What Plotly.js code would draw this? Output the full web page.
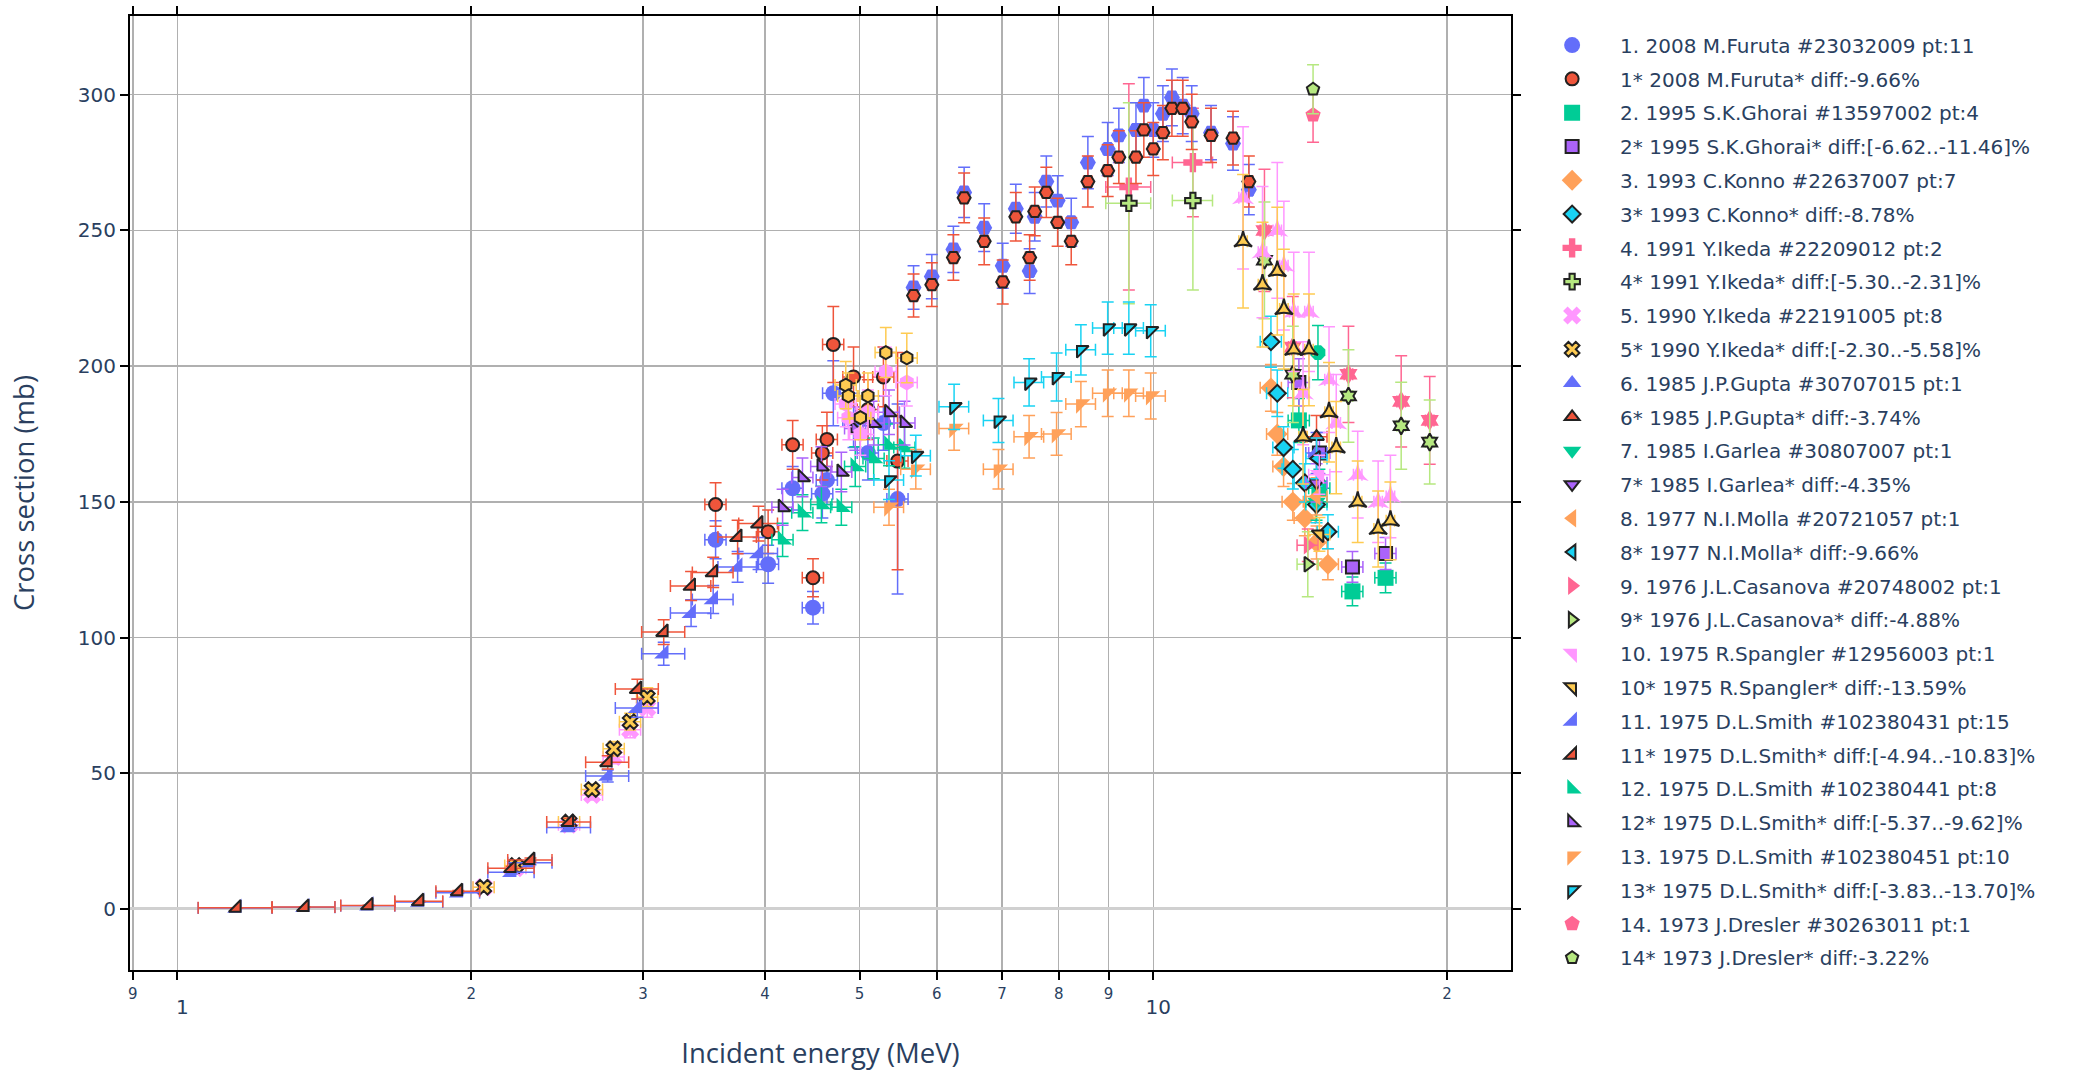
<!DOCTYPE html>
<html>
<head>
<meta charset="utf-8">
<script src="https://cdn.plot.ly/plotly-3.0.1.min.js"></script>
<style>html,body{margin:0;padding:0;background:#fff;}</style>
</head>
<body>
<div id="chart" style="width:2096px;height:1071px;"></div>
<script>
// ---- data (energies in MeV, cross sections in mb) ----
const E_furuta = [3.56, 4.03, 4.27, 4.48, 4.58, 4.63, 4.70, 4.93, 5.10, 5.29, 5.47];
const S_furuta = [136, 127, 155, 111, 153, 158, 190, 180, 168, 179, 151];
const S_furuta_n = [149, 139, 171, 122, 168, 173, 208, 196, 184, 196, 165];
const dS_furuta = [7, 7, 8, 6, 9, 9, 12, 10, 10, 10, 35];
const dS_furuta_n = [8, 8, 9, 7, 10, 10, 14, 11, 11, 11, 40];

const E_ghorai = [14.1, 14.8, 16.0, 17.3];
const S_ghorai = [180, 155, 117, 122];
const S_ghorai_n = [194, 168, 126, 131];

const E_konno = [13.2, 13.4, 13.6, 13.9, 14.3, 14.7, 15.1];
const S_konno = [192, 175, 163, 150, 144, 135, 127];
const S_konno_n = [209, 190, 170, 162, 157, 149, 139];

const E_ikeda91 = [9.44, 10.98];
const S_ikeda91 = [266, 275];
const S_ikeda91_n = [260, 261];

const E_ikeda90 = [2.06, 2.22, 2.52, 2.66, 2.80, 2.91, 3.03];
const S_ikeda90 = [8, 15, 31, 42, 56, 66, 74];
const S_ikeda90_n = [8, 16, 32, 44, 59, 69, 78];

const E_gupta = [14.7];   const S_gupta = [168];   const S_gupta_n = [174];
const E_garlea = [14.7];  const S_garlea = [150];  const S_garlea_n = [157];
const E_molla = [14.7];   const S_molla = [152];   const S_molla_n = [166];
const E_casanova = [14.4]; const S_casanova = [134]; const S_casanova_n = [127];
const E_spangler = [14.8]; const S_spangler = [160]; const S_spangler_n = [138];

const E_smith1 = [1.15, 1.35, 1.57, 1.77, 1.94, 2.20, 2.30, 2.52, 2.76, 2.96, 3.15, 3.36, 3.54, 3.75, 3.94];
const S_smith1 = [0.35, 0.6, 1.2, 2.6, 6, 13.5, 17, 30, 49, 74, 94, 109, 114, 126, 131];
const S_smith1_n = [0.4, 0.7, 1.3, 2.8, 6.5, 15, 18, 32, 54, 81, 102, 119, 124, 137, 142];
const dE_smith1 = [0.1, 0.1, 0.1, 0.1, 0.1, 0.12, 0.12, 0.13, 0.14, 0.15, 0.16, 0.16, 0.17, 0.17, 0.18];

const E_smith2 = [4.17, 4.37, 4.57, 4.79, 4.95, 5.17, 5.36, 5.56];
const S_smith2 = [136, 146, 149, 148, 163, 166, 171, 170];
const S_smith2_n = [148, 159, 163, 161, 177, 179, 183, 179];

const E_smith3 = [5.36, 5.71, 6.25, 6.94, 7.46, 7.96, 8.43, 8.98, 9.44, 9.94];
const S_smith3 = [148, 162, 177, 162, 174, 175, 186, 190, 190, 189];
const S_smith3_n = [158, 167, 185, 180, 194, 196, 206, 214, 214, 213];

const E_dresler = [14.58]; const S_dresler = [292.5]; const S_dresler_n = [302];

const E_hex = [4.84, 4.87, 5.01, 5.10, 5.32, 5.59];
const S_hex = [186, 181, 175, 183, 198, 194];
const S_hex_n = [193, 189, 181, 189, 205, 203];

const E_peak = [5.68, 5.93, 6.24, 6.40, 6.71, 7.01, 7.23, 7.47, 7.56, 7.77, 7.98, 8.24, 8.57, 8.98, 9.22, 9.60, 9.78, 10.0, 10.23, 10.45, 10.72, 10.95, 11.46, 12.07, 12.53];
const S_peak = [229, 233, 243, 264, 251, 237, 258, 235, 255, 268, 261, 253, 275, 280, 285, 287, 296, 287, 293, 299, 296, 293, 286, 282, 265];
const S_peak_n = [226, 230, 240, 262, 246, 231, 255, 240, 257, 264, 253, 246, 268, 272, 277, 277, 287, 280, 286, 295, 295, 290, 285, 284, 268];

const E_oct = [14.75]; const S_oct = [205];

const E_hexa = [13.0, 13.9, 15.85, 17.95, 19.2];
const S_hexa = [250, 207, 197, 187, 180];
const S_hexa_n = [239, 197, 189, 178, 172];

const E_stri = [12.36, 12.94, 13.4, 13.61, 13.93, 14.24, 14.44, 15.14, 15.4, 16.2, 17.0, 17.5];
const S_stri = [262, 242, 250, 237, 220, 190, 220, 195, 179, 160, 150, 152];
const S_stri_n = [246, 230, 235, 221, 206, 174, 206, 183, 170, 150, 140, 143];

// ---- legend labels ----
const labels = [
  '1. 2008 M.Furuta #23032009 pt:11', '1* 2008 M.Furuta* diff:-9.66%',
  '2. 1995 S.K.Ghorai #13597002 pt:4', '2* 1995 S.K.Ghorai* diff:[-6.62..-11.46]%',
  '3. 1993 C.Konno #22637007 pt:7', '3* 1993 C.Konno* diff:-8.78%',
  '4. 1991 Y.Ikeda #22209012 pt:2', '4* 1991 Y.Ikeda* diff:[-5.30..-2.31]%',
  '5. 1990 Y.Ikeda #22191005 pt:8', '5* 1990 Y.Ikeda* diff:[-2.30..-5.58]%',
  '6. 1985 J.P.Gupta #30707015 pt:1', '6* 1985 J.P.Gupta* diff:-3.74%',
  '7. 1985 I.Garlea #30807007 pt:1', '7* 1985 I.Garlea* diff:-4.35%',
  '8. 1977 N.I.Molla #20721057 pt:1', '8* 1977 N.I.Molla* diff:-9.66%',
  '9. 1976 J.L.Casanova #20748002 pt:1', '9* 1976 J.L.Casanova* diff:-4.88%',
  '10. 1975 R.Spangler #12956003 pt:1', '10* 1975 R.Spangler* diff:-13.59%',
  '11. 1975 D.L.Smith #102380431 pt:15', '11* 1975 D.L.Smith* diff:[-4.94..-10.83]%',
  '12. 1975 D.L.Smith #102380441 pt:8', '12* 1975 D.L.Smith* diff:[-5.37..-9.62]%',
  '13. 1975 D.L.Smith #102380451 pt:10', '13* 1975 D.L.Smith* diff:[-3.83..-13.70]%',
  '14. 1973 J.Dresler #30263011 pt:1', '14* 1973 J.Dresler* diff:-3.22%'
];

const C = ['#636efa','#EF553B','#00cc96','#ab63fa','#FFA15A','#19d3f3','#FF6692','#B6E880','#FF97FF','#FECB52'];

function pct(arr, p){ return arr.map(v => v*p); }

let gi = 0;
function mk(name, x, y, symbol, ci, starred, opts){
  opts = opts || {};
  const col = C[ci % 10];
  gi++;
  return {
    type:'scatter', mode:'markers', name:name, x:x, y:y,
    legendgroup:'g' + gi,
    showlegend: opts.showlegend !== false,
    marker:{symbol:symbol, color:col, size: starred ? 13 : 16,
            line: starred ? {color:'#222', width:2} : {width:0}},
    error_x:{type:'data', array: opts.ex || pct(x, 0.025), color:col, thickness:1.5, width:6, visible:true},
    error_y:{type:'data', array: opts.ey || pct(y, 0.045), color:col, thickness:1.5, width:6, visible:true}
  };
}

const traces = [
  mk(labels[0], E_furuta, S_furuta, 'circle', 0, false, {ey:dS_furuta}),
  mk(labels[1], E_furuta, S_furuta_n, 'circle', 1, true, {ey:dS_furuta_n}),
  mk(labels[2], E_ghorai, S_ghorai, 'square', 2, false),
  mk(labels[3], E_ghorai, S_ghorai_n, 'square', 3, true),
  mk(labels[4], E_konno, S_konno, 'diamond', 4, false),
  mk(labels[5], E_konno, S_konno_n, 'diamond', 5, true),
  mk(labels[6], E_ikeda91, S_ikeda91, 'cross', 6, false, {ex:[0.5,0.52], ey:[38,20]}),
  mk(labels[7], E_ikeda91, S_ikeda91_n, 'cross', 7, true, {ex:[0.5,0.52], ey:[37,33]}),
  mk(labels[8], E_ikeda90, S_ikeda90, 'x', 8, false),
  mk(labels[9], E_ikeda90, S_ikeda90_n, 'x', 9, true),
  mk(labels[10], E_gupta, S_gupta, 'triangle-up', 10, false),
  mk(labels[11], E_gupta, S_gupta_n, 'triangle-up', 11, true),
  mk(labels[12], E_garlea, S_garlea, 'triangle-down', 12, false),
  mk(labels[13], E_garlea, S_garlea_n, 'triangle-down', 13, true),
  mk(labels[14], E_molla, S_molla, 'triangle-left', 14, false),
  mk(labels[15], E_molla, S_molla_n, 'triangle-left', 15, true),
  mk(labels[16], E_casanova, S_casanova, 'triangle-right', 16, false),
  mk(labels[17], E_casanova, S_casanova_n, 'triangle-right', 17, true, {ey:[12]}),
  mk(labels[18], E_spangler, S_spangler, 'triangle-ne', 18, false),
  mk(labels[19], E_spangler, S_spangler_n, 'triangle-ne', 19, true),
  mk(labels[20], E_smith1, S_smith1, 'triangle-se', 20, false, {ex:dE_smith1}),
  mk(labels[21], E_smith1, S_smith1_n, 'triangle-se', 21, true, {ex:dE_smith1}),
  mk(labels[22], E_smith2, S_smith2, 'triangle-sw', 22, false),
  mk(labels[23], E_smith2, S_smith2_n, 'triangle-sw', 23, true),
  mk(labels[24], E_smith3, S_smith3, 'triangle-nw', 24, false, {ex:pct(E_smith3,0.035)}),
  mk(labels[25], E_smith3, S_smith3_n, 'triangle-nw', 25, true, {ex:pct(E_smith3,0.035)}),
  mk(labels[26], E_dresler, S_dresler, 'pentagon', 26, false, {ex:[0.05], ey:[10]}),
  mk(labels[27], E_dresler, S_dresler_n, 'pentagon', 27, true, {ex:[0.05], ey:[9]}),
  mk('15', E_hex, S_hex, 'hexagon', 28, false, {showlegend:false}),
  mk('15*', E_hex, S_hex_n, 'hexagon', 29, true, {showlegend:false}),
  mk('16', E_peak, S_peak, 'hexagon2', 30, false, {showlegend:false, ex:pct(E_peak,0.01), ey:pct(S_peak,0.035)}),
  mk('16*', E_peak, S_peak_n, 'hexagon2', 31, true, {showlegend:false, ex:pct(E_peak,0.01), ey:pct(S_peak_n,0.035)}),
  mk('17', E_oct, S_oct, 'octagon', 32, false, {showlegend:false, ex:[0.1], ey:[10]}),
  mk('18', E_hexa, S_hexa, 'hexagram', 36, false, {showlegend:false, ex:pct(E_hexa,0.01), ey:pct(S_hexa,0.09)}),
  mk('18*', E_hexa, S_hexa_n, 'hexagram', 37, true, {showlegend:false, ex:pct(E_hexa,0.01), ey:pct(S_hexa_n,0.09)}),
  mk('20', E_stri, S_stri, 'star-triangle-up', 38, false, {showlegend:false, ex:pct(E_stri,0.01), ey:pct(S_stri,0.1)}),
  mk('20*', E_stri, S_stri_n, 'star-triangle-up', 39, true, {showlegend:false, ex:pct(E_stri,0.01), ey:pct(S_stri_n,0.1)})
];

const tickFont = {family:'Verdana, "DejaVu Sans", sans-serif', size:20, color:'#2a3f5f'};
const titleFont = {family:'"Open Sans", sans-serif', size:27.5, color:'#2a3f5f'};

const layout = {
  width:2096, height:1071,
  margin:{l:130, r:585, t:16, b:101},
  paper_bgcolor:'#fff', plot_bgcolor:'#fff',
  showlegend:true,
  legend:{x:1.0095, y:0.99, xanchor:'left', yanchor:'top',
          font:{family:'Verdana, "DejaVu Sans", sans-serif', size:20, color:'#2a3f5f'},
          traceorder:'grouped', tracegroupgap:4.8, itemwidth:86, bgcolor:'rgba(0,0,0,0)'},
  xaxis:{type:'log', range:[Math.log10(0.894), Math.log10(23.26)], dtick:'D1',
         showgrid:true, gridcolor:'#b0b0b0', gridwidth:1.5,
         showline:true, linecolor:'#000', linewidth:2, mirror:'ticks',
         ticks:'outside', ticklen:8, tickwidth:2, tickcolor:'#000',
         tickfont:tickFont, zeroline:false,
         title:{text:'Incident energy (MeV)', font:titleFont}},
  yaxis:{range:[-22.5, 329], dtick:50, tick0:0,
         showgrid:true, gridcolor:'#b0b0b0', gridwidth:1.5,
         zeroline:true, zerolinecolor:'#d0d0d0', zerolinewidth:3,
         showline:true, linecolor:'#000', linewidth:2, mirror:'ticks',
         ticks:'outside', ticklen:8, tickwidth:2, tickcolor:'#000',
         tickfont:tickFont,
         title:{text:'Cross section (mb)', font:titleFont, standoff:35}}
};

Plotly.newPlot('chart', traces, layout, {displayModeBar:false, staticPlot:true});
</script>
</body>
</html>
